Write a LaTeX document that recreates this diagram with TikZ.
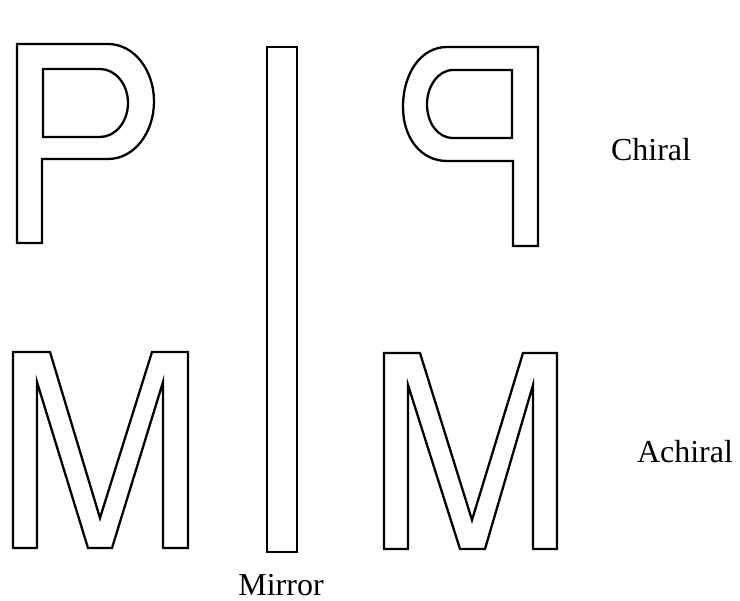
\documentclass[tikz,border=0pt]{standalone}
\usepackage{fontspec}
\setmainfont{Liberation Serif}
\begin{document}
\begin{tikzpicture}[x=1pt,y=-1pt,
  outline/.style={draw=black,line width=2.3pt,line join=miter},
  lbl/.style={font=\fontsize{32}{36}\selectfont,inner sep=0pt}]
\useasboundingbox (0,0) rectangle (740,601);
% left P
\path[outline] (17,243) -- (17,44) -- (108,44)
  .. controls (134,44) and (154,70) .. (154,101.5)
  .. controls (154,133) and (134,159) .. (108,159)
  -- (42,159) -- (42,243) -- cycle;
\path[outline] (43,69) -- (100,69)
  .. controls (115.4,69) and (128,84.2) .. (128,103)
  .. controls (128,121.8) and (115.4,137) .. (100,137)
  -- (43,137) -- cycle;
% mirrored P
\begin{scope}[shift={(555,3)},xscale=-1]
\path[outline] (17,243) -- (17,44) -- (108,44)
  .. controls (134,44) and (152,70) .. (152,104)
  .. controls (152,135) and (134,158) .. (108,158)
  -- (42,158) -- (42,243) -- cycle;
\path[outline] (43,67) -- (102,67)
  .. controls (117.4,67) and (128,84.2) .. (128,101)
  .. controls (128,119.8) and (117.4,135) .. (102,135)
  -- (43,135) -- cycle;
\end{scope}
% mirror
\path[outline] (267,47) rectangle (297,552);
% left M
\path[outline] (13,352) -- (50,352) -- (100,518) -- (152,352) -- (188,352)
  -- (188,548) -- (163,548) -- (163,382) -- (112,548) -- (88,548)
  -- (37,382) -- (37,548) -- (13,548) -- cycle;
% right M
\begin{scope}[shift={(371,1)}]
\path[outline] (13,352) -- (49,352) -- (101,519) -- (152,352) -- (186,352)
  -- (186,548) -- (162,548) -- (162,384) -- (114,548) -- (89,548)
  -- (37,384) -- (37,548) -- (13,548) -- cycle;
\end{scope}
% labels
\node[lbl] (chiral) at (651,150) {Chiral};
\node[lbl] (achiral) at (685,452) {Achiral};
\node[lbl] (mirror) at (281,585) {Mirror};
\end{tikzpicture}
\end{document}
